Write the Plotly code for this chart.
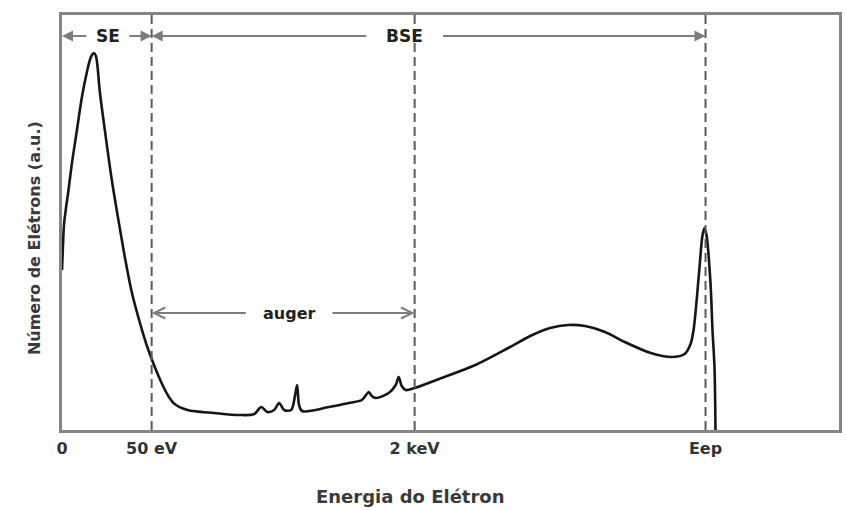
import plotly.graph_objects as go

# Electron energy spectrum (arbitrary units): energy axis and electron count
energy = [0, 0.5, 1, 2, 4, 6, 10, 15, 20, 25, 28, 30, 32, 34, 35.5, 38, 43, 50,
          58, 64, 70, 78, 86, 100, 108, 113, 126, 153, 178, 193, 200, 206, 213,
          218, 223, 230, 234, 236, 238, 241, 268, 288, 301, 306, 308, 311, 315,
          328, 335, 338, 341, 345, 354, 381, 415, 448, 470, 490, 508, 525, 545,
          565, 591, 612, 625, 631, 634, 636, 638, 640, 643, 645, 647, 651, 653,
          655, 656]
counts = [160, 172, 185, 205, 222, 236, 267, 300, 333, 358, 370, 375, 377, 374,
          365, 338, 300, 250, 202, 168, 138, 108, 82, 47, 32, 26, 20, 17, 15, 16,
          23, 18, 20, 27, 20, 20, 35, 45, 25, 19, 23, 27, 30, 36, 38, 34, 32, 37,
          45, 53, 44, 40, 42, 52, 65, 82, 94, 102, 105, 104, 98, 88, 77, 73, 76,
          86, 100, 118, 140, 163, 195, 202, 195, 147, 100, 63, 0]

# Region boundaries on the energy axis and their labels
tick_vals = [0, 90, 354, 646]
tick_text = ["0", "50 eV", "2 keV", "Eep"]
x_range = [0, 780]
y_range = [0, 415]

# Range arrows: (label, start, end, height, label centre, half gap, head style)
ranges = [
    ("SE", 0, 90, 394, 46, 20, 2),
    ("BSE", 90, 646, 394, 344, 37, 2),
    ("auger", 90, 354, 117, 228, 42, 5),
]

fig = go.Figure()
fig.add_trace(go.Scatter(
    x=energy, y=counts, mode="lines",
    line=dict(color="#161616", width=2.6, shape="spline", smoothing=0.9),
    hoverinfo="skip", showlegend=False,
))

shapes = []
for xv in tick_vals[1:]:
    shapes.append(dict(type="line", xref="x", yref="y", x0=xv, x1=xv,
                       y0=y_range[0], y1=y_range[1],
                       line=dict(color="#5a5a5a", width=2, dash="9px,5px")))

annotations = []
label_font = dict(family="DejaVu Sans", size=17, color="#222222", weight="bold")
for label, x0, x1, yv, xc, gap, head in ranges:
    # left half, head pointing at the start boundary
    annotations.append(dict(x=x0, y=yv, ax=xc - gap, ay=yv, xref="x", yref="y",
                            axref="x", ayref="y", text="", showarrow=True,
                            arrowhead=head, arrowsize=1.1, arrowwidth=2,
                            arrowcolor="#7d7d7d"))
    # right half, head pointing at the end boundary
    annotations.append(dict(x=x1, y=yv, ax=xc + gap, ay=yv, xref="x", yref="y",
                            axref="x", ayref="y", text="", showarrow=True,
                            arrowhead=head, arrowsize=1.1, arrowwidth=2,
                            arrowcolor="#7d7d7d"))
    fnt = dict(label_font)
    if label == "auger":
        fnt["size"] = 16
    annotations.append(dict(x=xc, y=yv, xref="x", yref="y", text=label,
                            showarrow=False, font=fnt,
                            xanchor="center", yanchor="middle"))

annotations.append(dict(x=0.4487, y=-0.161, xref="paper", yref="paper",
                        text="Energia do Elétron", showarrow=False,
                        xanchor="center", yanchor="middle",
                        font=dict(family="DejaVu Sans", size=18,
                                  color="#3a3a3a", weight="bold")))
annotations.append(dict(x=-0.0346, y=0.4627, xref="paper", yref="paper",
                        text="Número de Elétrons (a.u.)", showarrow=False,
                        textangle=-90, xanchor="center", yanchor="middle",
                        font=dict(family="DejaVu Sans", size=16,
                                  color="#3a3a3a", weight="bold")))

fig.update_layout(
    width=846, height=510,
    margin=dict(l=62, r=4, t=15, b=80),
    paper_bgcolor="white", plot_bgcolor="white",
    shapes=shapes, annotations=annotations,
    xaxis=dict(range=x_range, tickvals=tick_vals, ticktext=tick_text,
               showgrid=False, zeroline=False, showline=True, mirror=True,
               linecolor="#858585", linewidth=2.5, ticks="outside",
               ticklen=2, tickcolor="rgba(0,0,0,0)",
               tickfont=dict(family="DejaVu Sans", size=16, color="#333333",
                             weight="bold")),
    yaxis=dict(range=y_range, showticklabels=False, showgrid=False,
               zeroline=False, showline=True, mirror=True,
               linecolor="#858585", linewidth=2.5, ticks=""),
)

fig.write_html("out.html")
